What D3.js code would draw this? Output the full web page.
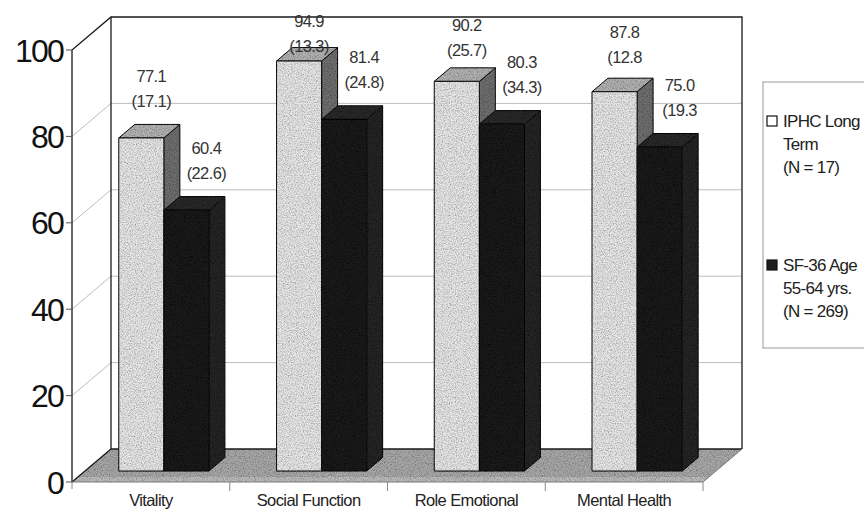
<!DOCTYPE html>
<html>
<head>
<meta charset="utf-8">
<script src="https://cdn.jsdelivr.net/npm/d3@7/dist/d3.min.js"></script>
<style>
  html, body { margin: 0; padding: 0; background: #fff; }
  svg { display: block; font-family: "Liberation Sans", Arial, sans-serif; }
</style>
</head>
<body>
<svg id="chart" width="864" height="514"></svg>
<script>
// ---- data ----
const categories = ["Vitality", "Social Function", "Role Emotional", "Mental Health"];
const seriesNames = ["IPHC", "SF36"];
const iphcMeans = [77.1, 94.9, 90.2, 87.8];
const iphcSdLabels = ["(17.1)", "(13.3)", "(25.7)", "(12.8"];
const sf36Means = [60.4, 81.4, 80.3, 75.0];
const sf36SdLabels = ["(22.6)", "(24.8)", "(34.3)", "(19.3"];
const valueTicks = [0, 20, 40, 60, 80, 100];
const legendIphc = ["IPHC Long", "Term", "(N = 17)"];
const legendSf36 = ["SF-36 Age", "55-64 yrs.", "(N = 269)"];

// ---- layout ----
const svg = d3.select("#chart");
const y = d3.scaleLinear().domain([0, 100]).range([482, 50]);
const x = d3.scaleBand().domain(categories).range([72, 703]).paddingInner(0).paddingOuter(0);
const xs = d3.scaleBand().domain(seriesNames).range([0, x.bandwidth()]).paddingInner(0).paddingOuter(0.75);
// oblique depth: full depth of the box, and the slab occupied by the bars
const depth = (t) => [39 * t, -33 * t];
const barFront = depth(0.333), barBack = depth(0.742);
const [DX, DY] = depth(1);

const defs = svg.append("defs");
const grain = defs.append("filter").attr("id", "grain")
  .attr("x", 0).attr("y", 0).attr("width", "100%").attr("height", "100%");
grain.append("feTurbulence").attr("type", "fractalNoise").attr("baseFrequency", 0.85)
  .attr("numOctaves", 2).attr("seed", 7).attr("result", "noise");
grain.append("feColorMatrix").attr("in", "noise").attr("type", "matrix")
  .attr("values", "0 0 0 0 0  0 0 0 0 0  0 0 0 0 0  1.3 0 0 0 -0.5").attr("result", "specks");
grain.append("feComposite").attr("in", "specks").attr("in2", "SourceGraphic")
  .attr("operator", "in").attr("result", "clipped");
const gm = grain.append("feMerge");
gm.append("feMergeNode").attr("in", "SourceGraphic");
gm.append("feMergeNode").attr("in", "clipped");

const pt = (p) => p.map(d => d.join(",")).join(" ");
const x0 = x.range()[0], x1 = x.range()[1];
const yb = y(0), yt = y(100);

// back wall
svg.append("polygon")
  .attr("points", pt([[x0 + DX, yt + DY], [x1 + DX, yt + DY], [x1 + DX, yb + DY], [x0 + DX, yb + DY]]))
  .attr("fill", "#fff").attr("stroke", "none");
// side wall
svg.append("polygon")
  .attr("points", pt([[x0, yt], [x0 + DX, yt + DY], [x0 + DX, yb + DY], [x0, yb]]))
  .attr("fill", "#fff").attr("stroke", "none");

// gridlines on back and side walls
const grid = svg.append("g").attr("stroke", "#b5b5b5").attr("stroke-width", 0.9).attr("fill", "none");
valueTicks.filter(v => v > 0 && v < 100).forEach(v => {
  grid.append("line").attr("x1", x0).attr("y1", y(v)).attr("x2", x0 + DX).attr("y2", y(v) + DY);
  grid.append("line").attr("x1", x0 + DX).attr("y1", y(v) + DY).attr("x2", x1 + DX).attr("y2", y(v) + DY);
});

// floor
const floor = svg.append("g").attr("filter", "url(#grain)");
floor.append("polygon")
  .attr("points", pt([[x0, yb], [x1, yb], [x1 + DX, yb + DY], [x0 + DX, yb + DY]]))
  .attr("fill", "#a9a9a9");
floor.append("polygon")
  .attr("points", pt([[x0, yb], [x1, yb], [x1 + 6, yb - 5], [x0 + 6, yb - 5]]))
  .attr("fill", "#bdbdbd");

// box frame
const frame = svg.append("g").attr("fill", "none").attr("stroke", "#1a1a1a").attr("stroke-width", 1.3);
frame.append("polyline").attr("points", pt([[x0, yb], [x0, yt], [x0 + DX, yt + DY], [x1 + DX, yt + DY], [x1 + DX, yb + DY]]));
frame.append("line").attr("x1", x0 + DX).attr("y1", yt + DY).attr("x2", x0 + DX).attr("y2", yb + DY);
frame.append("line").attr("x1", x0 + DX).attr("y1", yb + DY).attr("x2", x1 + DX).attr("y2", yb + DY);
frame.append("line").attr("x1", x0).attr("y1", yb).attr("x2", x0 + DX).attr("y2", yb + DY);
svg.append("polyline").attr("points", pt([[x0, yb], [x1, yb], [x1 + DX, yb + DY]]))
  .attr("fill", "none").attr("stroke", "#7a7a7a").attr("stroke-width", 1);

// bars
const styles = {
  IPHC: { front: "#e7e7e7", top: "#b3b3b3", side: "#6f6f6f", stroke: "#111" },
  SF36: { front: "#1d1d1d", top: "#2b2b2b", side: "#262626", stroke: "#111" }
};
const bars = svg.append("g").attr("filter", "url(#grain)");
const rows = [];
categories.forEach((c, i) => {
  [["IPHC", iphcMeans[i], iphcSdLabels[i]], ["SF36", sf36Means[i], sf36SdLabels[i]]].forEach(([s, v, sd]) => {
    rows.push({ c, s, v, sd });
  });
});
const [fx, fy] = barFront, [bx, by] = barBack;
const ddx = bx - fx, ddy = by - fy;
rows.forEach(d => {
  const st = styles[d.s];
  const L = x(d.c) + xs(d.s) + fx, R = L + xs.bandwidth();
  const T = y(d.v) + fy, B = y(0) + fy;
  const g = bars.append("g").attr("stroke", st.stroke).attr("stroke-width", 1).attr("stroke-linejoin", "round");
  g.append("polygon").attr("points", pt([[R, T], [R + ddx, T + ddy], [R + ddx, B + ddy], [R, B]])).attr("fill", st.side);
  g.append("polygon").attr("points", pt([[L, T], [L + ddx, T + ddy], [R + ddx, T + ddy], [R, T]])).attr("fill", st.top);
  g.append("rect").attr("x", L).attr("y", T).attr("width", R - L).attr("height", B - T).attr("fill", st.front);
  d.cx = (L + R) / 2; d.top = T;
});

// data labels: mean and (SD), kept clear of the top of the box
const fmt = d3.format(".1f");
const labelY = (top) => { const lim = 20, s = 8; return lim + s * Math.log1p(Math.exp((top - 62 - lim) / s)); };
const lab = svg.append("g").attr("fill", "#333").attr("font-size", 16.5).attr("letter-spacing", -0.6)
  .attr("text-anchor", "middle");
rows.forEach(d => {
  const cx = d.cx + (d.s === "IPHC" ? 10 : 20);
  const ly = labelY(d.top);
  lab.append("text").attr("x", cx).attr("y", ly + 6).text(fmt(d.v));
  lab.append("text").attr("x", cx).attr("y", ly + 31).text(d.sd);
});

// value axis
const axisG = svg.append("g");
valueTicks.forEach(v => {
  axisG.append("line").attr("x1", x0 - 6).attr("x2", x0).attr("y1", y(v)).attr("y2", y(v))
    .attr("stroke", "#555").attr("stroke-width", 1);
  axisG.append("text").attr("x", x0 - 9).attr("y", y(v) + 11.5).attr("text-anchor", "end")
    .attr("font-size", 32).attr("letter-spacing", -1.8).attr("fill", "#111").text(v);
});

// category axis
const catG = svg.append("g");
categories.forEach((c, i) => {
  const xr = x(c) + x.bandwidth();
  catG.append("line").attr("x1", xr).attr("x2", xr).attr("y1", yb).attr("y2", yb + 9)
    .attr("stroke", "#888").attr("stroke-width", 1);
  catG.append("text").attr("x", x(c) + x.bandwidth() / 2).attr("y", 506)
    .attr("text-anchor", "middle").attr("font-size", 16.5).attr("letter-spacing", -0.6)
    .attr("fill", "#222").text(c);
});
catG.append("line").attr("x1", x0).attr("x2", x0).attr("y1", yb).attr("y2", yb + 7)
  .attr("stroke", "#888").attr("stroke-width", 1);

// legend
const leg = svg.append("g");
leg.append("rect").attr("x", 763).attr("y", 82).attr("width", 120).attr("height", 266)
  .attr("fill", "#fff").attr("stroke", "#9a9a9a").attr("stroke-width", 1);
const legendItems = [
  { lines: legendIphc, fill: "#fff", y: 121 },
  { lines: legendSf36, fill: "#1d1d1d", y: 265 }
];
legendItems.forEach(it => {
  leg.append("rect").attr("x", 767).attr("y", it.y - 5).attr("width", 10).attr("height", 10)
    .attr("fill", it.fill).attr("stroke", "#111").attr("stroke-width", 1.2);
  it.lines.forEach((t, j) => {
    leg.append("text").attr("x", 783).attr("y", it.y + 6 + j * 23)
      .attr("font-size", 17).attr("letter-spacing", -0.7).attr("fill", "#222").text(t);
  });
});
</script>
</body>
</html>
